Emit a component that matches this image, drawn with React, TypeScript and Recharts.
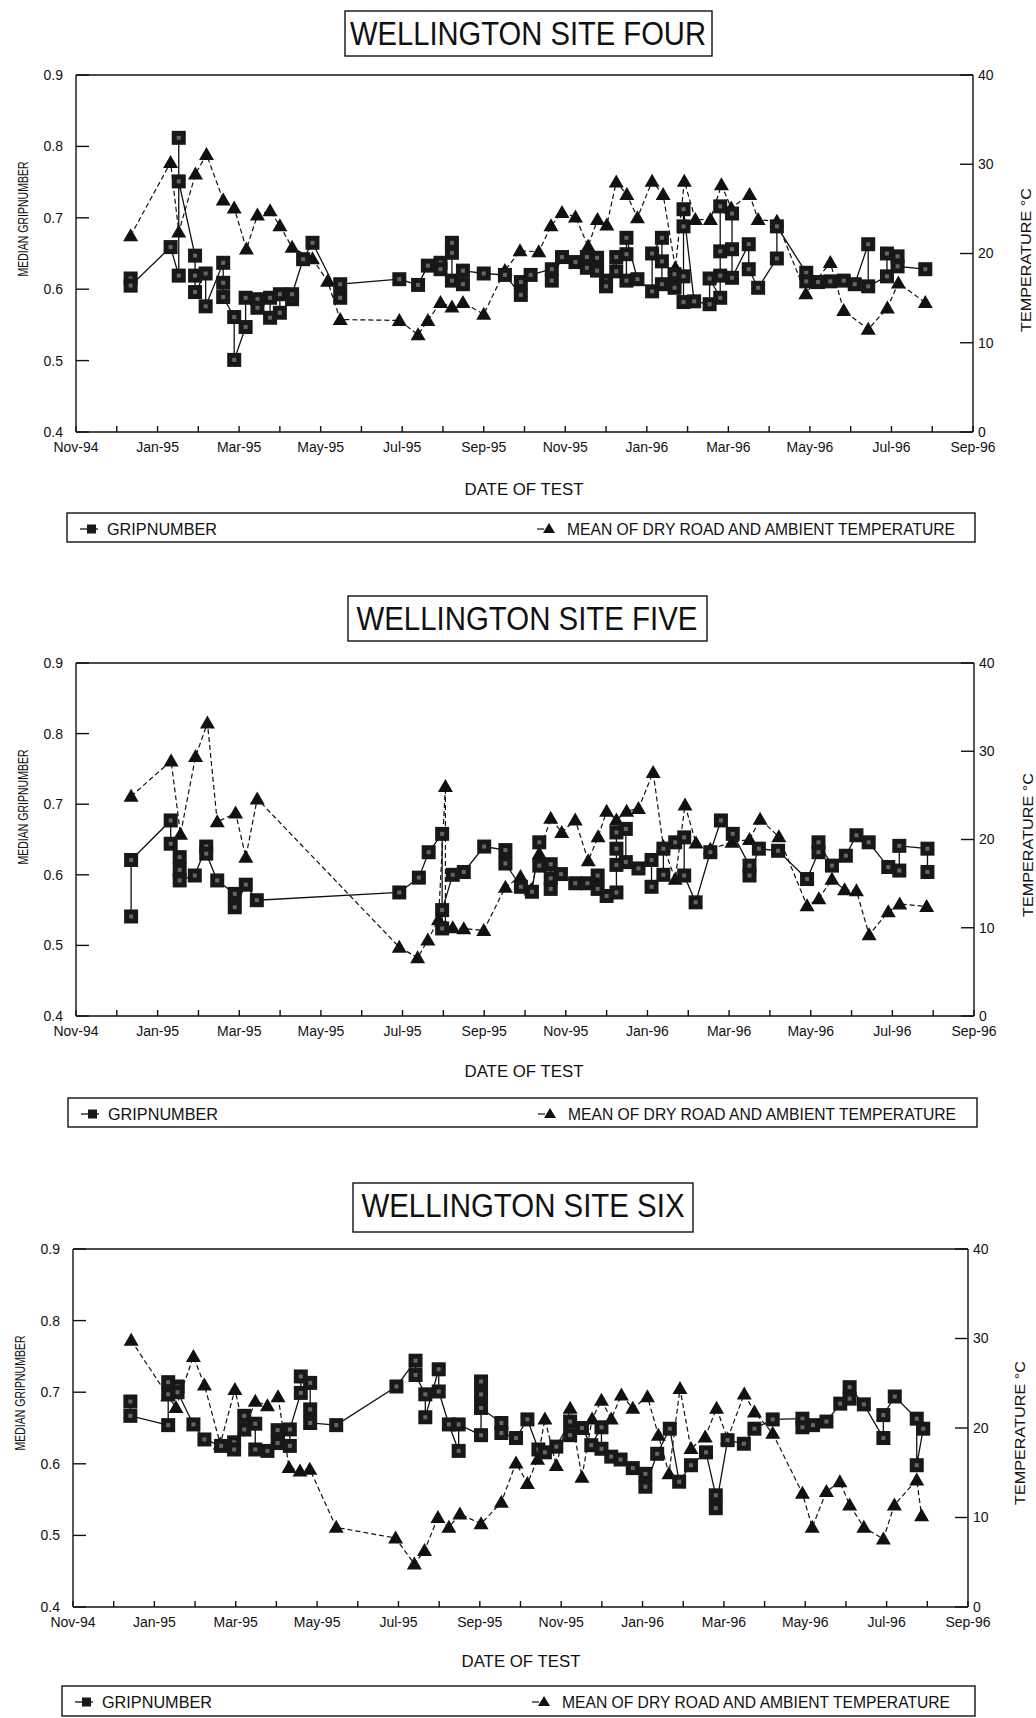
import React from "react";
import { ReferenceLine, Scatter, ScatterChart, XAxis, YAxis } from "recharts";

type Pt = [number, number];

// x = months after 1 Nov 1994, y = median gripnumber / temperature °C
const monthLabels = ["Nov-94", "Jan-95", "Mar-95", "May-95", "Jul-95", "Sep-95", "Nov-95", "Jan-96", "Mar-96", "May-96", "Jul-96", "Sep-96"];
const monthTicks = [0, 1, 2, 3, 4, 5, 6, 7, 8, 9, 10, 11, 12, 13, 14, 15, 16, 17, 18, 19, 20, 21, 22];
const gripTicks = [0.4, 0.5, 0.6, 0.7, 0.8, 0.9];
const tempTicks = [0, 10, 20, 30, 40];

const site4Grip: Pt[] = [
  [1.34, 0.615], [1.34, 0.605], [2.32, 0.659], [2.52, 0.619], [2.52, 0.812], [2.52, 0.751],
  [2.92, 0.647], [2.92, 0.619], [2.92, 0.596], [3.18, 0.622], [3.18, 0.576],
  [3.61, 0.637], [3.61, 0.609], [3.61, 0.589], [3.88, 0.561], [3.88, 0.501],
  [4.16, 0.547], [4.16, 0.588], [4.45, 0.586], [4.45, 0.574], [4.76, 0.56], [4.76, 0.588],
  [5.0, 0.593], [5.0, 0.567], [5.3, 0.586], [5.3, 0.593], [5.57, 0.642], [5.8, 0.665],
  [6.48, 0.588], [6.48, 0.607], [7.93, 0.614], [8.39, 0.606], [8.63, 0.633],
  [8.94, 0.637], [8.94, 0.628], [9.22, 0.665], [9.22, 0.651], [9.22, 0.612],
  [9.49, 0.607], [9.49, 0.626], [10.0, 0.622], [10.52, 0.62], [10.91, 0.592], [10.91, 0.61],
  [11.15, 0.62], [11.67, 0.628], [11.67, 0.612], [11.92, 0.645], [12.25, 0.638],
  [12.53, 0.645], [12.53, 0.63], [12.78, 0.644], [12.78, 0.626], [13.0, 0.612], [13.0, 0.604],
  [13.25, 0.645], [13.25, 0.625], [13.5, 0.612], [13.5, 0.649], [13.5, 0.672], [13.77, 0.614],
  [14.13, 0.597], [14.13, 0.65], [14.37, 0.672], [14.37, 0.639], [14.37, 0.607],
  [14.68, 0.621], [14.68, 0.602], [14.9, 0.582], [14.9, 0.618], [14.9, 0.688], [14.9, 0.712],
  [15.16, 0.583], [15.54, 0.579], [15.54, 0.615], [15.8, 0.588], [15.8, 0.619], [15.8, 0.653], [15.8, 0.716],
  [16.09, 0.706], [16.09, 0.656], [16.09, 0.616], [16.5, 0.663], [16.5, 0.628], [16.73, 0.602],
  [17.19, 0.643], [17.19, 0.688], [17.91, 0.623], [17.91, 0.611], [18.2, 0.61], [18.5, 0.611],
  [18.83, 0.612], [19.1, 0.607], [19.43, 0.663], [19.43, 0.604], [19.89, 0.618], [19.89, 0.65],
  [20.15, 0.646], [20.15, 0.632], [20.83, 0.628],
];

const site4Temp: Pt[] = [
  [1.34, 22.0], [2.32, 30.2], [2.52, 22.4], [2.93, 28.9], [3.2, 31.1], [3.61, 26.0], [3.88, 25.1],
  [4.18, 20.5], [4.45, 24.3], [4.76, 24.8], [5.0, 23.1], [5.3, 20.7], [5.8, 19.4], [6.17, 16.9],
  [6.48, 12.6], [7.93, 12.5], [8.39, 10.9], [8.63, 12.5], [8.94, 14.5], [9.22, 14.0], [9.49, 14.5],
  [10.0, 13.2], [10.52, 18.1], [10.89, 20.3], [11.35, 20.2], [11.65, 23.1], [11.92, 24.6],
  [12.25, 24.1], [12.56, 20.8], [12.79, 23.8], [13.02, 23.2], [13.25, 28.0], [13.51, 26.6],
  [13.77, 24.0], [14.13, 28.1], [14.4, 26.6], [14.7, 18.4], [14.92, 28.1], [15.19, 23.8],
  [15.56, 23.8], [15.83, 27.7], [16.07, 25.1], [16.52, 26.6], [16.73, 23.8], [17.19, 23.6],
  [17.9, 15.5], [18.5, 19.0], [18.83, 13.6], [19.43, 11.5], [19.9, 13.9], [20.17, 16.7], [20.83, 14.5],
];

const site5Grip: Pt[] = [
  [1.35, 0.541], [1.35, 0.621], [2.32, 0.677], [2.32, 0.644], [2.54, 0.625], [2.54, 0.607], [2.54, 0.592],
  [2.91, 0.599], [3.19, 0.64], [3.19, 0.63], [3.46, 0.592], [3.89, 0.573], [3.89, 0.554],
  [4.16, 0.586], [4.43, 0.564], [7.92, 0.575], [8.4, 0.596], [8.64, 0.632],
  [8.97, 0.658], [8.97, 0.524], [8.97, 0.55], [9.23, 0.6], [9.5, 0.604], [10.0, 0.64],
  [10.52, 0.635], [10.52, 0.616], [10.9, 0.583], [11.17, 0.576], [11.35, 0.646], [11.35, 0.613],
  [11.63, 0.615], [11.63, 0.595], [11.63, 0.58], [11.88, 0.601], [12.23, 0.588], [12.53, 0.588],
  [12.78, 0.599], [12.78, 0.58], [13.0, 0.57], [13.24, 0.575], [13.24, 0.614], [13.24, 0.637], [13.24, 0.66],
  [13.47, 0.665], [13.47, 0.618], [13.78, 0.609], [14.1, 0.621], [14.1, 0.583],
  [14.39, 0.6], [14.39, 0.637], [14.68, 0.646], [14.9, 0.653], [14.9, 0.599], [15.18, 0.561],
  [15.54, 0.632], [15.8, 0.677], [16.09, 0.658], [16.5, 0.613], [16.5, 0.599], [16.73, 0.637],
  [17.2, 0.634], [17.91, 0.594], [18.19, 0.632], [18.19, 0.646], [18.52, 0.613], [18.86, 0.627],
  [19.12, 0.656], [19.42, 0.646], [19.9, 0.611], [20.17, 0.606], [20.17, 0.641],
  [20.86, 0.637], [20.86, 0.604],
];

const site5Temp: Pt[] = [
  [1.35, 24.9], [2.33, 28.9], [2.56, 20.6], [2.93, 29.4], [3.22, 33.2], [3.46, 22.0], [3.91, 23.0],
  [4.16, 18.0], [4.44, 24.6], [7.92, 7.8], [8.37, 6.6], [8.62, 8.6], [8.88, 10.9], [9.05, 26.0],
  [9.05, 10.1], [9.23, 10.0], [9.5, 9.9], [9.99, 9.7], [10.52, 14.6], [10.89, 15.8], [11.15, 14.3],
  [11.35, 18.4], [11.63, 22.4], [11.9, 20.8], [12.23, 22.2], [12.55, 17.6], [12.79, 20.3],
  [13.0, 23.2], [13.24, 22.2], [13.49, 23.2], [13.78, 23.5], [14.14, 27.6], [14.39, 19.2],
  [14.68, 15.5], [14.92, 23.9], [15.19, 19.6], [15.54, 18.9], [16.07, 19.7], [16.5, 20.0],
  [16.76, 22.3], [17.22, 20.3], [17.91, 12.5], [18.2, 13.3], [18.52, 15.5], [18.83, 14.3],
  [19.12, 14.2], [19.43, 9.2], [19.9, 11.8], [20.18, 12.7], [20.84, 12.4],
];

const site6Grip: Pt[] = [
  [1.41, 0.687], [1.41, 0.667], [2.34, 0.654], [2.34, 0.697], [2.34, 0.714], [2.57, 0.708], [2.57, 0.7],
  [2.96, 0.655], [3.23, 0.634], [3.64, 0.625], [3.96, 0.63], [3.96, 0.62], [4.21, 0.667], [4.21, 0.648],
  [4.48, 0.656], [4.48, 0.62], [4.78, 0.618], [5.03, 0.629], [5.03, 0.647], [5.33, 0.625], [5.33, 0.648],
  [5.6, 0.699], [5.6, 0.722], [5.83, 0.713], [5.83, 0.676], [5.83, 0.657], [6.47, 0.654],
  [7.95, 0.708], [8.42, 0.744], [8.42, 0.724], [8.66, 0.697], [8.66, 0.665], [8.99, 0.732], [8.99, 0.701],
  [9.24, 0.655], [9.48, 0.618], [9.48, 0.655], [10.03, 0.64], [10.03, 0.715], [10.03, 0.697], [10.03, 0.678],
  [10.53, 0.657], [10.53, 0.643], [10.89, 0.636], [11.17, 0.662], [11.44, 0.62], [11.6, 0.616],
  [11.88, 0.624], [12.22, 0.659], [12.22, 0.64], [12.51, 0.65], [12.74, 0.626], [12.99, 0.651], [12.99, 0.621],
  [13.23, 0.61], [13.46, 0.606], [13.76, 0.594], [14.07, 0.586], [14.07, 0.568], [14.36, 0.614],
  [14.67, 0.649], [14.9, 0.575], [15.19, 0.598], [15.56, 0.616], [15.8, 0.556], [15.8, 0.538],
  [16.09, 0.633], [16.49, 0.628], [16.75, 0.649], [17.2, 0.662], [17.93, 0.663], [17.93, 0.651],
  [18.19, 0.654], [18.52, 0.659], [18.86, 0.684], [19.09, 0.691], [19.09, 0.707], [19.44, 0.683],
  [19.92, 0.636], [19.92, 0.668], [20.2, 0.694], [20.74, 0.663], [20.74, 0.598], [20.9, 0.649],
];

const site6Temp: Pt[] = [
  [1.43, 29.8], [2.33, 23.6], [2.53, 22.3], [2.96, 28.0], [3.23, 24.8], [3.62, 18.2], [3.98, 24.3],
  [4.21, 19.7], [4.48, 23.0], [4.78, 22.5], [5.04, 23.5], [5.31, 15.6], [5.58, 15.2], [5.82, 15.4],
  [6.47, 8.9], [7.93, 7.7], [8.39, 4.8], [8.64, 6.3], [8.97, 10.0], [9.24, 8.9], [9.51, 10.4],
  [10.03, 9.3], [10.53, 11.7], [10.89, 16.1], [11.17, 13.8], [11.42, 16.5], [11.6, 21.0],
  [11.88, 15.8], [12.22, 22.2], [12.51, 14.5], [12.76, 21.0], [12.99, 23.1], [13.23, 21.0],
  [13.48, 23.7], [13.76, 22.2], [14.12, 23.5], [14.39, 19.2], [14.65, 14.9], [14.92, 24.4],
  [15.19, 17.7], [15.54, 19.0], [15.82, 22.2], [16.09, 18.8], [16.5, 23.8], [16.75, 21.8],
  [17.2, 19.4], [17.93, 12.7], [18.17, 8.9], [18.52, 12.9], [18.85, 14.0], [19.09, 11.4],
  [19.44, 8.9], [19.92, 7.6], [20.19, 11.4], [20.74, 14.2], [20.86, 10.2],
];

const FONT = "'Liberation Sans', Arial, Helvetica, sans-serif";
const INK = "#111";

const toRows = (pts: Pt[]) => pts.map(([m, v]) => ({ m, v }));

function Square(props: any) {
  const { cx, cy } = props;
  if (cx == null || cy == null) return null;
  return (
    <g>
      <rect x={cx - 7} y={cy - 7} width={14} height={14} fill="#181818" />
      <rect x={cx - 2} y={cy - 2} width={4} height={4} fill="#666" />
    </g>
  );
}

function Triangle(props: any) {
  const { cx, cy } = props;
  if (cx == null || cy == null) return null;
  return <polygon points={`${cx},${cy - 7.5} ${cx + 7.5},${cy + 5.5} ${cx - 7.5},${cy + 5.5}`} fill={INK} />;
}

type Layout = {
  plotLeft: number;
  plotRight: number;
  plotTop: number;
  plotBottom: number;
  titleBox: [number, number, number, number];
  titleX: number;
  titleBase: number;
  titleLen: number;
  dateX: number;
  dateBase: number;
  leftLabel: [number, number];
  rightLabel: [number, number];
  legendBox: [number, number, number, number];
  legendBase: number;
};

const layout4: Layout = {
  plotLeft: 76, plotRight: 973, plotTop: 75, plotBottom: 432,
  titleBox: [345, 11, 367, 45], titleX: 528, titleBase: 45, titleLen: 356,
  dateX: 524, dateBase: 495, leftLabel: [23, 219], rightLabel: [1025, 260],
  legendBox: [67, 513, 908, 29], legendBase: 535,
};
const layout5: Layout = {
  plotLeft: 76, plotRight: 974, plotTop: 663, plotBottom: 1016,
  titleBox: [348, 596, 359, 45], titleX: 527, titleBase: 630, titleLen: 341,
  dateX: 524, dateBase: 1077, leftLabel: [23, 807], rightLabel: [1027, 845],
  legendBox: [68, 1098, 909, 29], legendBase: 1120,
};
const layout6: Layout = {
  plotLeft: 73, plotRight: 968, plotTop: 1249, plotBottom: 1607,
  titleBox: [353, 1183, 340, 49], titleX: 523, titleBase: 1217, titleLen: 323,
  dateX: 521, dateBase: 1667, leftLabel: [20, 1393], rightLabel: [1019, 1433],
  legendBox: [62, 1686, 913, 30], legendBase: 1708,
};

const tickStyle = { fill: INK, fontSize: 14, fontFamily: FONT };
const lineStyle = { stroke: INK, strokeWidth: 1.4 };

function Panel({ l, grip, temp }: { l: Layout; grip: Pt[]; temp: Pt[] }) {
  const h = l.plotBottom - l.plotTop;
  return (
    <div style={{ position: "absolute", left: 0, top: l.plotTop - 20 }}>
      <ScatterChart
        width={1036}
        height={h + 120}
        margin={{ top: 20, left: l.plotLeft - 60, right: 1036 - l.plotRight - 60, bottom: 70 }}
      >
        <XAxis
          xAxisId="x"
          type="number"
          dataKey="m"
          domain={[0, 22]}
          ticks={monthTicks}
          interval={0}
          height={30}
          tickFormatter={(v: number) => (v % 2 === 0 ? monthLabels[v / 2] : "")}
          tick={tickStyle}
          axisLine={lineStyle}
          tickLine={lineStyle}
          tickSize={-6}
          tickMargin={16}
          allowDataOverflow
        />
        <YAxis
          yAxisId="g"
          type="number"
          dataKey="v"
          domain={[0.4, 0.9]}
          ticks={gripTicks}
          width={60}
          tickFormatter={(v: number) => v.toFixed(1)}
          tick={tickStyle}
          axisLine={lineStyle}
          tickLine={lineStyle}
          tickSize={-13}
          tickMargin={26}
          allowDataOverflow
        />
        <YAxis
          yAxisId="t"
          orientation="right"
          type="number"
          dataKey="v"
          domain={[0, 40]}
          ticks={tempTicks}
          width={60}
          tick={tickStyle}
          axisLine={lineStyle}
          tickLine={lineStyle}
          tickSize={-13}
          tickMargin={18}
          allowDataOverflow
        />
        <ReferenceLine xAxisId="x" yAxisId="g" y={0.9} stroke={INK} strokeWidth={1.4} />
        <Scatter
          data={toRows(temp)}
          xAxisId="x"
          yAxisId="t"
          shape={Triangle}
          line={{ stroke: INK, strokeWidth: 1.2, strokeDasharray: "5 3" }}
          lineType="joint"
          isAnimationActive={false}
        />
        <Scatter
          data={toRows(grip)}
          xAxisId="x"
          yAxisId="g"
          shape={Square}
          line={{ stroke: INK, strokeWidth: 1.3 }}
          lineType="joint"
          isAnimationActive={false}
        />
      </ScatterChart>
    </div>
  );
}

function Decor({ l, title }: { l: Layout; title: string }) {
  const [bx, by, bw, bh] = l.titleBox;
  const [gx, gy, gw, gh] = l.legendBox;
  const my = l.legendBase - 6;
  return (
    <g fontFamily={FONT} fill={INK}>
      <rect x={bx} y={by} width={bw} height={bh} fill="#fff" stroke={INK} strokeWidth={1.4} />
      <text x={l.titleX} y={l.titleBase} fontSize={34} textAnchor="middle" textLength={l.titleLen} lengthAdjust="spacingAndGlyphs">
        {title}
      </text>
      <text x={l.dateX} y={l.dateBase} fontSize={16} textAnchor="middle" textLength={119} lengthAdjust="spacingAndGlyphs">
        DATE OF TEST
      </text>
      <text
        x={l.leftLabel[0]}
        y={l.leftLabel[1]}
        transform={`rotate(-90 ${l.leftLabel[0]} ${l.leftLabel[1]})`}
        fontSize={14.5}
        textAnchor="middle"
        dominantBaseline="central"
        textLength={115}
        lengthAdjust="spacingAndGlyphs"
      >
        MEDIAN GRIPNUMBER
      </text>
      <text
        x={l.rightLabel[0]}
        y={l.rightLabel[1]}
        transform={`rotate(-90 ${l.rightLabel[0]} ${l.rightLabel[1]})`}
        fontSize={15.5}
        textAnchor="middle"
        dominantBaseline="central"
        textLength={144}
        lengthAdjust="spacingAndGlyphs"
      >
        TEMPERATURE °C
      </text>
      <rect x={gx} y={gy} width={gw} height={gh} fill="none" stroke={INK} strokeWidth={1.4} />
      <line x1={gx + 13} x2={gx + 31} y1={my} y2={my} stroke={INK} strokeWidth={1.3} />
      <rect x={gx + 20} y={my - 4.5} width={9} height={9} fill="#181818" />
      <text x={gx + 40} y={l.legendBase} fontSize={16} textLength={110} lengthAdjust="spacingAndGlyphs">
        GRIPNUMBER
      </text>
      <line x1={gx + 470} x2={gx + 477} y1={my} y2={my} stroke={INK} strokeWidth={1.2} />
      <polygon points={`${gx + 482},${my - 6} ${gx + 488},${my + 4} ${gx + 476},${my + 4}`} fill={INK} />
      <text x={gx + 500} y={l.legendBase} fontSize={16} textLength={388} lengthAdjust="spacingAndGlyphs">
        MEAN OF DRY ROAD AND AMBIENT TEMPERATURE
      </text>
    </g>
  );
}

export default function App() {
  return (
    <div style={{ position: "absolute", left: 0, top: 0, width: 1036, height: 1718, background: "#fff", overflow: "hidden" }}>
      <Panel l={layout4} grip={site4Grip} temp={site4Temp} />
      <Panel l={layout5} grip={site5Grip} temp={site5Temp} />
      <Panel l={layout6} grip={site6Grip} temp={site6Temp} />
      <svg width={1036} height={1718} style={{ position: "absolute", left: 0, top: 0, pointerEvents: "none" }}>
        <Decor l={layout4} title="WELLINGTON SITE FOUR" />
        <Decor l={layout5} title="WELLINGTON SITE FIVE" />
        <Decor l={layout6} title="WELLINGTON SITE SIX" />
      </svg>
    </div>
  );
}
